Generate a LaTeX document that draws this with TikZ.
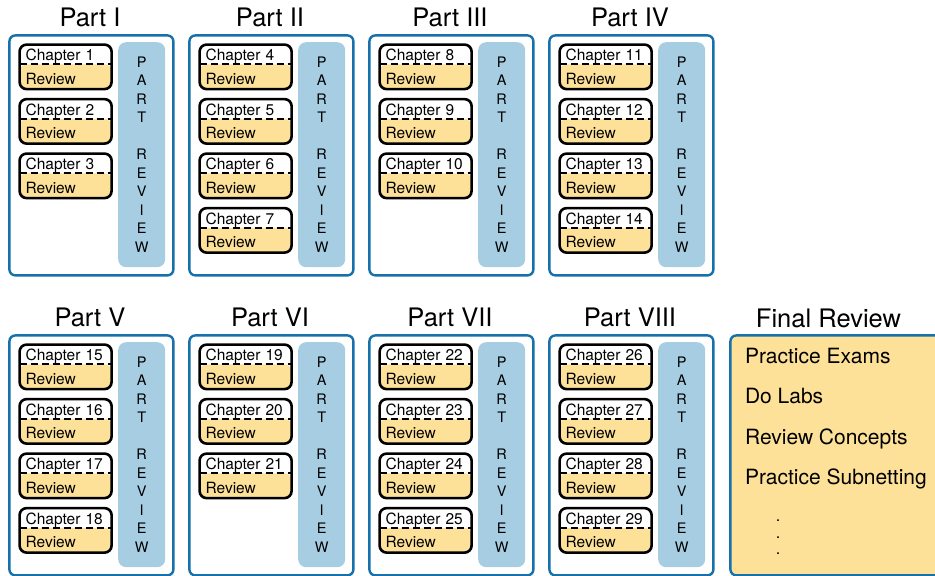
\documentclass[tikz,border=0pt]{standalone}
\usepackage{fontspec}
\setmainfont{TeX Gyre Heros}
\usetikzlibrary{positioning}
\definecolor{frameblue}{RGB}{22,112,170}
\definecolor{revblue}{RGB}{166,205,226}
\definecolor{revyellow}{RGB}{253,225,152}

\begin{document}
\begin{tikzpicture}[x=1pt, y=-1pt,
      part/.style={draw=frameblue, line width=2.4pt, rounded corners=6pt, minimum width=164, minimum height=240, anchor=north west},
      title/.style={anchor=base, font=\fontsize{25.5}{25.5}\selectfont},
      chap/.style={draw, line width=2.6pt, rounded corners=7pt, minimum width=92, minimum height=44.5, anchor=north west,
        inner xsep=6pt, text width=80pt, align=left, font=\fontsize{15.5}{23.7}\selectfont,
        path picture={
          \fill[revyellow] ([yshift=2.5pt]path picture bounding box.west) rectangle (path picture bounding box.south east);
          \draw[line width=2pt, dash pattern=on 7pt off 4pt] ([yshift=2.5pt]path picture bounding box.west) -- ([yshift=2.5pt]path picture bounding box.east);
        }},
      prev/.style={fill=revblue, rounded corners=8pt, minimum width=47, minimum height=225, anchor=north west,
        align=center, font=\fontsize{14.5}{18.5}\selectfont},
      item/.style={anchor=base west, font=\fontsize{21}{21}\selectfont},
      dot/.style={anchor=base, inner sep=0pt, font=\fontsize{16}{16}\selectfont}
    ]
    \useasboundingbox (0,0) rectangle (935,576);

    % Parts with chapters
    \foreach \p/\name/\col/\row/\first/\last in {1/I/0/0/1/3, 2/II/1/0/4/7, 3/III/2/0/8/10, 4/IV/3/0/11/14,
                                                 5/V/0/1/15/18, 6/VI/1/1/19/21, 7/VII/2/1/22/25, 8/VIII/3/1/26/29} {
      \node[part] (part\p) at (180*\col+8.2, 300*\row+34.2) {};
      \node[title] (title\p) at (180*\col+90, 300*\row+26) {Part \name};
      \node[prev] (prev\p) at (180*\col+118, 300*\row+42) {P\\A\\R\\T\\[18.5pt]R\\E\\V\\I\\E\\W};
      \foreach \c in {\first,...,\last}
        \node[chap] (ch\c) at (180*\col+18.3, 300*\row+43.3+54.5*\c-54.5*\first) {Chapter \c\\Review};
    }

    % Final review
    \node[part, fill=revyellow, minimum width=230] (final) at (729.2, 334.2) {};
    \node[title] (titlefinal) at (828.5, 327) {Final Review};
    \foreach \t [count=\i] in {Practice Exams, Do Labs, Review Concepts, Practice Subnetting}
      \node[item] (fr\i) at (741.5, 322.5+40.5*\i) {\t};
    \foreach \i in {1,2,3}
      \node[dot] (dot\i) at (778, 505+16.5*\i) {.};

  \end{tikzpicture}
\end{document}
